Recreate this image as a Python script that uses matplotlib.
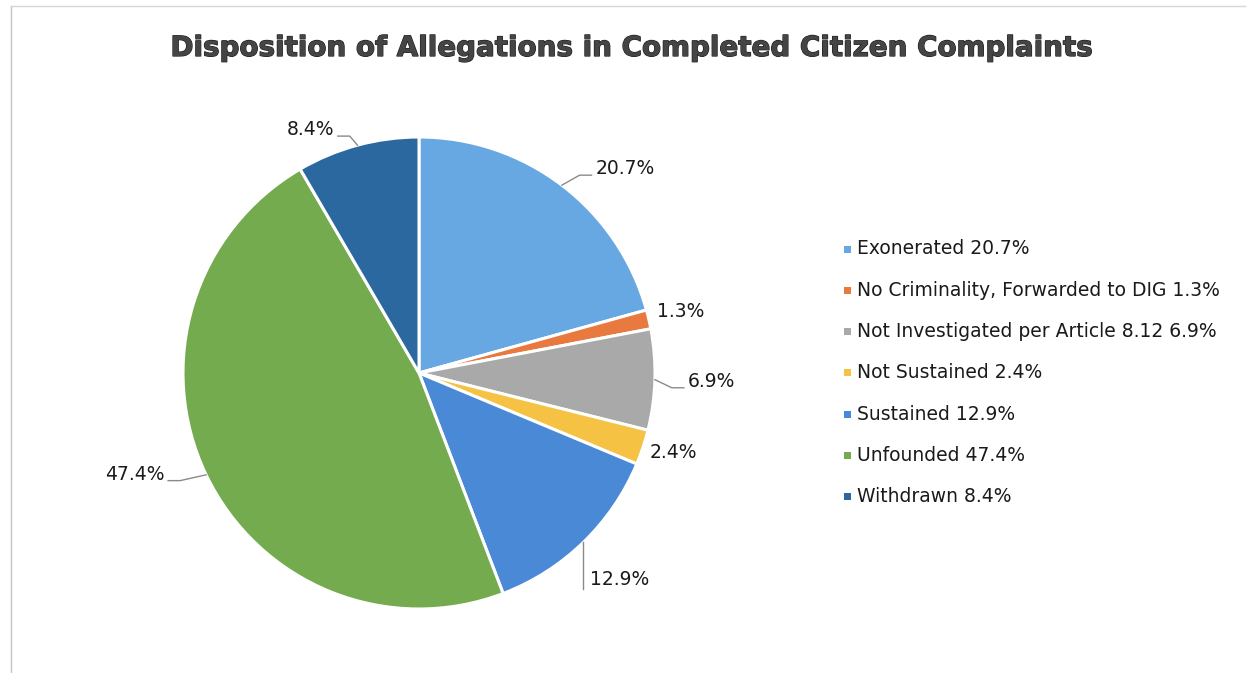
import numpy as np
import matplotlib
matplotlib.use("Agg")
import matplotlib.pyplot as plt
import matplotlib.patheffects as pe
from matplotlib.lines import Line2D
from matplotlib.patches import Rectangle

# Disposition categories and their shares (%)
categorias = ["Exonerated", "No Criminality, Forwarded to DIG",
              "Not Investigated per Article 8.12", "Not Sustained",
              "Sustained", "Unfounded", "Withdrawn"]
percentuais = [20.7, 1.3, 6.9, 2.4, 12.9, 47.4, 8.4]
cores = ["#67a8e2", "#e8793f", "#a9a9a9", "#f5c244",
         "#4a89d6", "#73ab4e", "#2b689f"]

# label placement: radial distance (pie radii), angle nudge (deg), leader style
dist_rotulo = [1.23, 1.14, 1.24, 1.13, 1.22, 1.28, 1.13]
ajuste_ang = [-8, 0, 0, 1, 0, -6, 9]
tipo_linha = ["cotovelo", None, "cotovelo", None, "vertical", "cotovelo", "cotovelo"]

W, H = 1250, 673
fig = plt.figure(figsize=(W / 100, H / 100), dpi=100)

# axes covering the figure, one data unit = pie radius
cx, cy, R = 419, 373, 236
ax = fig.add_axes([0, 0, 1, 1])
fatias, _ = ax.pie(percentuais, colors=cores, startangle=90, counterclock=False,
                   radius=1.0, center=(0, 0), frame=True,
                   wedgeprops=dict(edgecolor="white", linewidth=2.2))
ax.set_xlim(-cx / R, (W - cx) / R)
ax.set_ylim(-(H - cy) / R, cy / R)
ax.axis("off")

fs = 13.5
cor_linha = "#8a8a8a"
rotulos = []
for fatia, p, d, da in zip(fatias, percentuais, dist_rotulo, ajuste_ang):
    ang = np.deg2rad((fatia.theta1 + fatia.theta2) / 2 + da)
    t = ax.text(d * np.cos(ang), d * np.sin(ang), f"{p}%", ha="center", va="center",
                fontsize=fs, color="#1a1a1a")
    rotulos.append(t)

# leader lines need the label extents
fig.canvas.draw()
renderer = fig.canvas.get_renderer()
inv = ax.transData.inverted()
px = 1.0 / R
for fatia, t, tipo in zip(fatias, rotulos, tipo_linha):
    if tipo is None:
        continue
    ang = np.deg2rad((fatia.theta1 + fatia.theta2) / 2)
    ex, ey = np.cos(ang), np.sin(ang)
    bb = t.get_window_extent(renderer)
    (x0, y0), (x1, y1) = inv.transform([[bb.x0, bb.y0], [bb.x1, bb.y1]])
    base = y0 + 3 * px
    if tipo == "vertical":
        vx = ex
        ax.plot([vx, vx], [ey, base - 3 * px], color=cor_linha, lw=1)
    else:
        if ex > 0:
            fim = x0 - 4 * px
            cot = fim - 12 * px
        else:
            fim = x1 + 4 * px
            cot = fim + 12 * px
        ax.plot([ex, cot, fim], [ey, base, base], color=cor_linha, lw=1)

# title
fig.text(632 / W, 1 - 48 / H, "Disposition of Allegations in Completed Citizen Complaints",
         ha="center", va="center", fontsize=20, fontweight="bold", color="#454545",
         path_effects=[pe.withStroke(linewidth=0.9, foreground="#1e1e1e")])

# legend as square markers with text
y0, passo = 249, 41.3
for i, (nome, p, c) in enumerate(zip(categorias, percentuais, cores)):
    y = 1 - (y0 + i * passo) / H
    fig.add_artist(Rectangle((844 / W, y - 3.5 / H), 7 / W, 7 / H,
                             transform=fig.transFigure, color=c, lw=0))
    fig.text(857 / W, y, f"{nome} {p}%", ha="left", va="center",
             fontsize=fs, color="#1a1a1a")

# light frame on the top and left edges
fig.add_artist(Line2D([11 / W, 11 / W], [0, 1 - 6 / H], transform=fig.transFigure,
                      color="#c4c4c4", lw=1))
fig.add_artist(Line2D([11 / W, 1245 / W], [1 - 6 / H, 1 - 6 / H], transform=fig.transFigure,
                      color="#d6d6d6", lw=1))

fig.savefig("out.png", dpi=100, facecolor="white")
